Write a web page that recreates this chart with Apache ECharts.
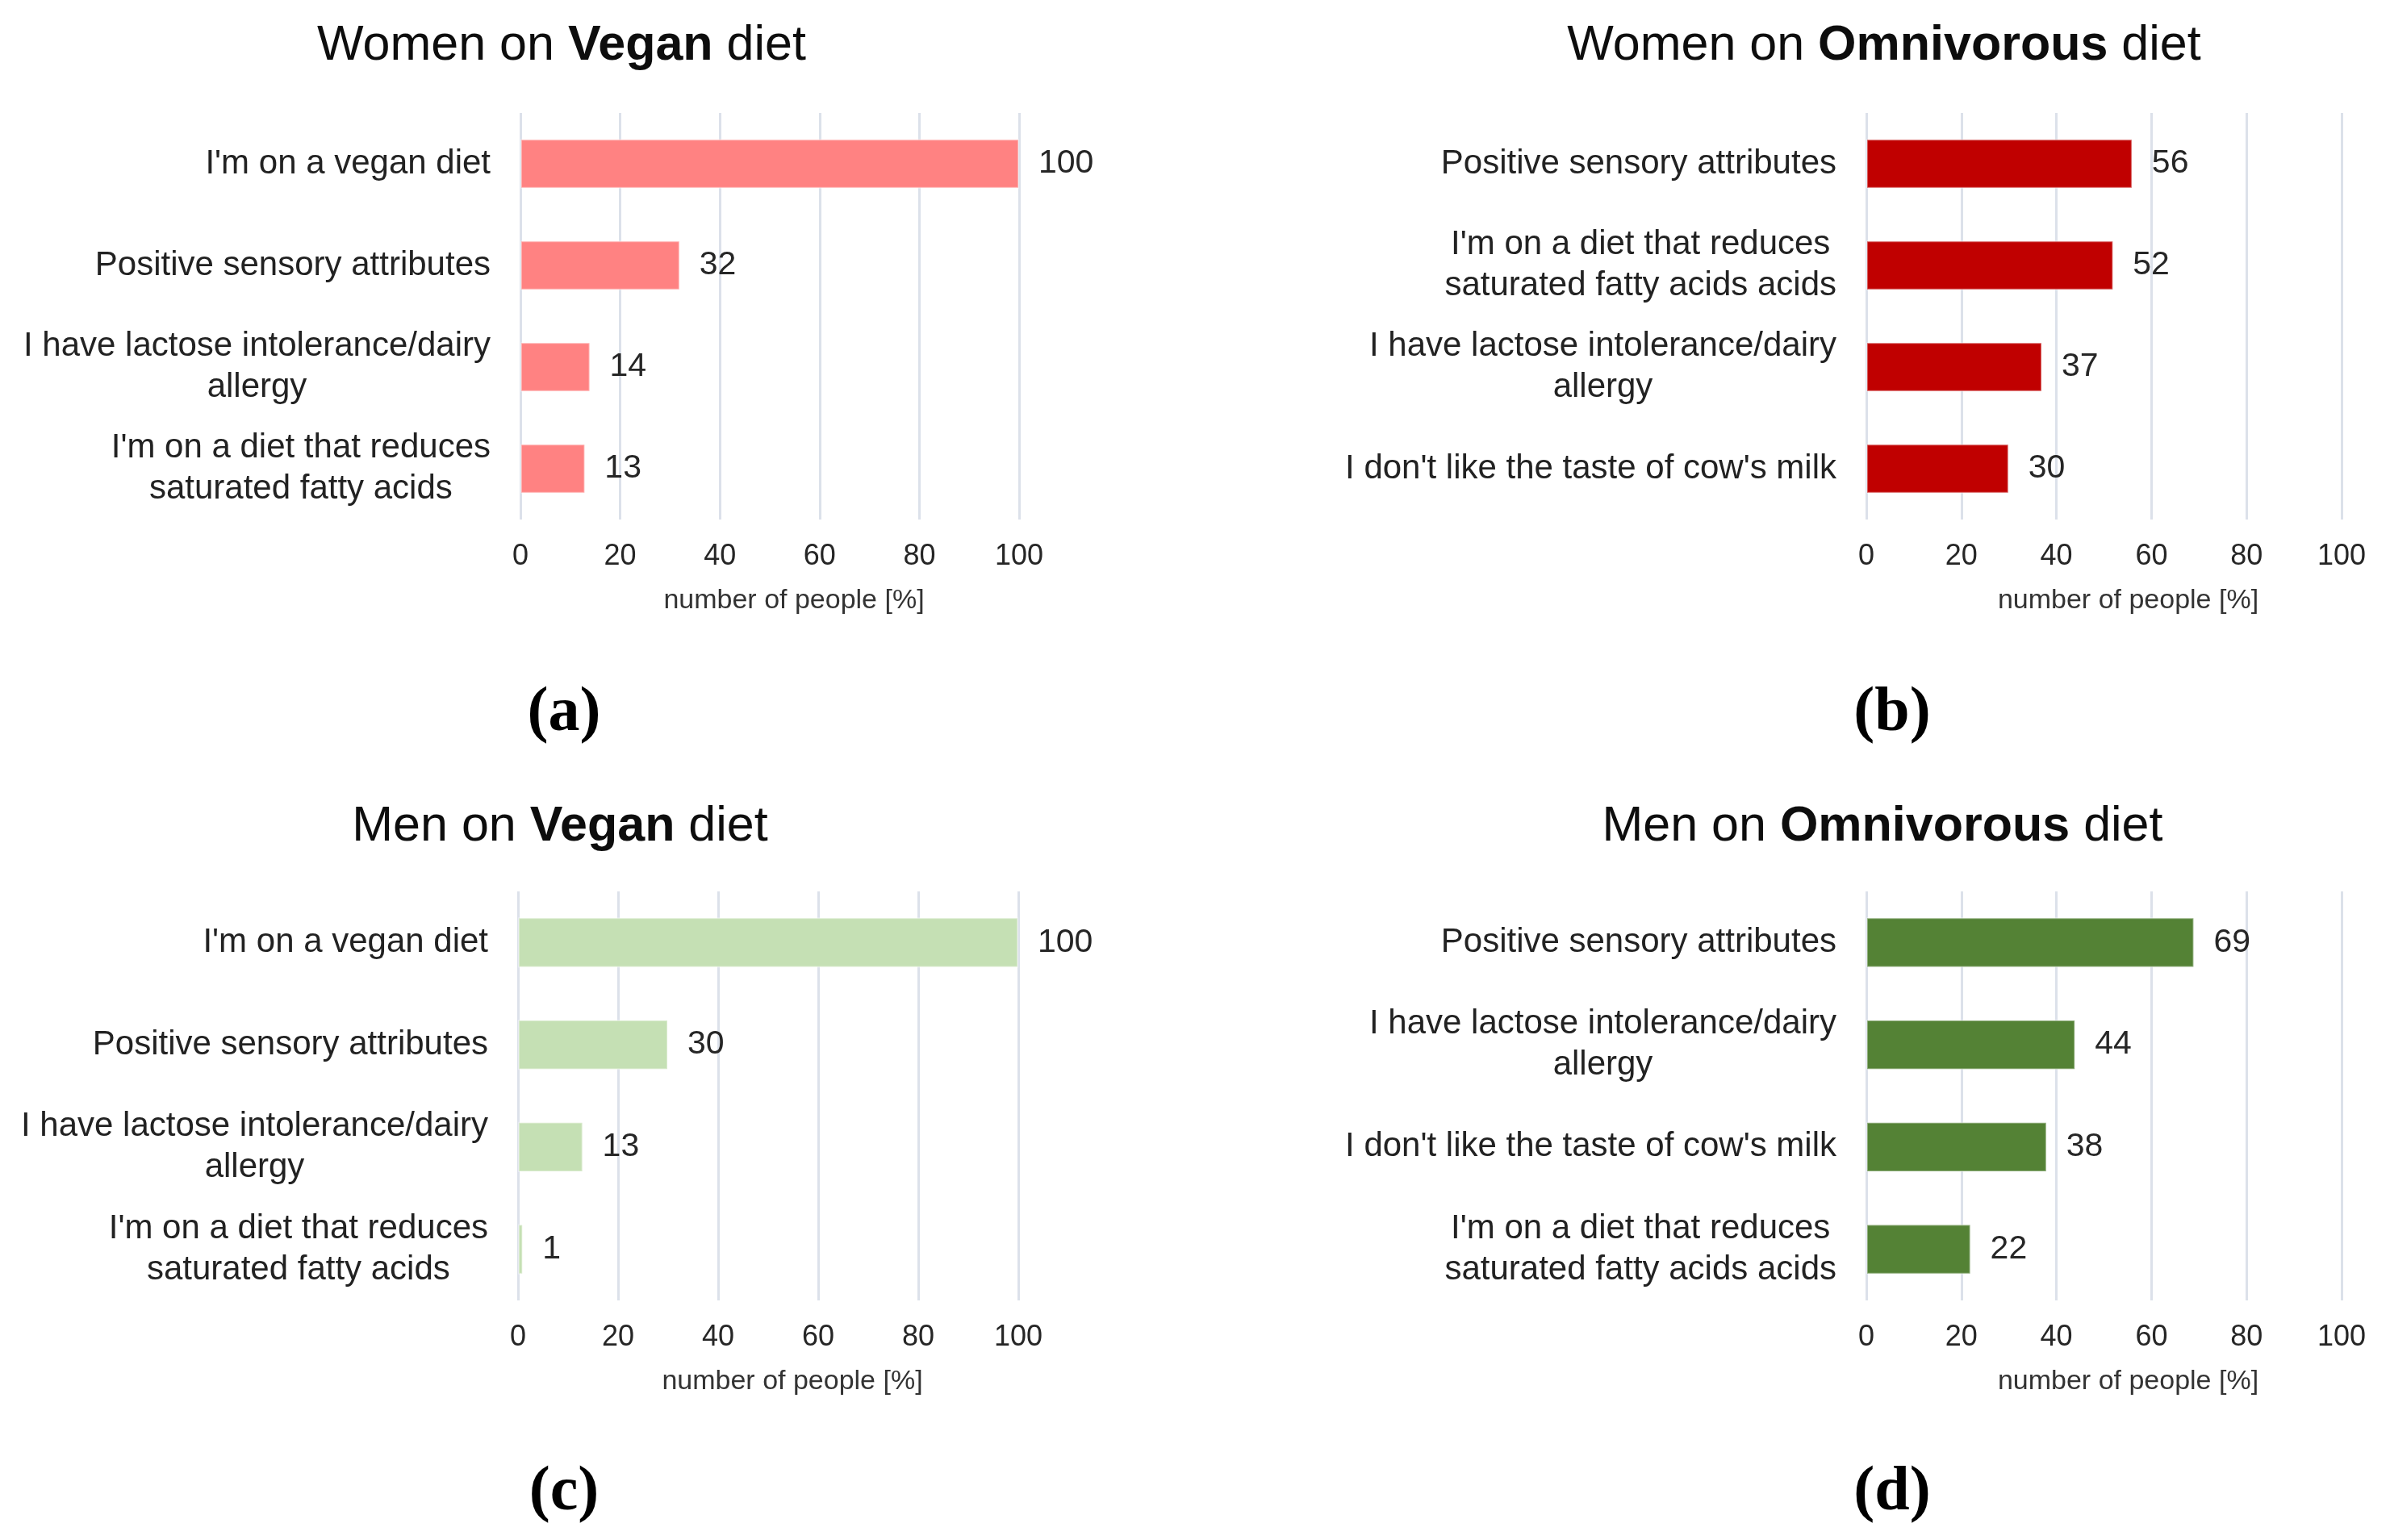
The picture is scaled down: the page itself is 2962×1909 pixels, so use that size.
<!DOCTYPE html>
<html>
<head>
<meta charset="utf-8">
<script src="https://cdn.jsdelivr.net/npm/echarts@6/dist/echarts.min.js"></script>
<style>
html,body{margin:0;padding:0;background:#fff;}
#chart{width:2962px;height:1909px;}
</style>
</head>
<body>
<div id="chart"></div>
<script>
// ---- Data ----
const catsWomenVegan = ["I'm on a vegan diet", "Positive sensory attributes", "I have lactose intolerance/dairy\nallergy", "I'm on a diet that reduces\nsaturated fatty acids"];
const valsWomenVegan = [100, 32, 14, 13];

const catsWomenOmni = ["Positive sensory attributes", "I'm on a diet that reduces\nsaturated fatty acids acids", "I have lactose intolerance/dairy\nallergy", "I don't like the taste of cow's milk"];
const valsWomenOmni = [56, 52, 37, 30];

const catsMenVegan = ["I'm on a vegan diet", "Positive sensory attributes", "I have lactose intolerance/dairy\nallergy", "I'm on a diet that reduces\nsaturated fatty acids"];
const valsMenVegan = [100, 30, 13, 1];

const catsMenOmni = ["Positive sensory attributes", "I have lactose intolerance/dairy\nallergy", "I don't like the taste of cow's milk", "I'm on a diet that reduces\nsaturated fatty acids acids"];
const valsMenOmni = [69, 44, 38, 22];

const titles = [
  ["Women on ", "Vegan", " diet"],
  ["Women on ", "Omnivorous", " diet"],
  ["Men on ", "Vegan", " diet"],
  ["Men on ", "Omnivorous", " diet"]
];
const panelLetters = ["(a)", "(b)", "(c)", "(d)"];
const axisName = "number of people [%]";
const xTicks = { min: 0, max: 100, interval: 20 };

// ---- Layout / style ----
const FONT = "'Liberation Sans', Arial, sans-serif";
const panels = [
  { cats: catsWomenVegan, vals: valsWomenVegan, color: '#FF8282', grid: { left: 645, width: 618, top: 140, height: 504 }, titleX: 696, titleY: 57, letterX: 699, letterY: 885 },
  { cats: catsWomenOmni, vals: valsWomenOmni, color: '#C00000', grid: { left: 2313, width: 589, top: 140, height: 504 }, titleX: 2335, titleY: 57, letterX: 2345, letterY: 885 },
  { cats: catsMenVegan, vals: valsMenVegan, color: '#C5E0B4', grid: { left: 642, width: 620, top: 1105, height: 507 }, titleX: 694, titleY: 1025, letterX: 699, letterY: 1851 },
  { cats: catsMenOmni, vals: valsMenOmni, color: '#548235', grid: { left: 2313, width: 589, top: 1105, height: 507 }, titleX: 2333, titleY: 1025, letterX: 2345, letterY: 1851 }
];

const grid = [], xAxis = [], yAxis = [], series = [], graphic = [];
panels.forEach((p, i) => {
  grid.push(Object.assign({ containLabel: false }, p.grid));
  xAxis.push({
    type: 'value', gridIndex: i, min: xTicks.min, max: xTicks.max, interval: xTicks.interval,
    axisLine: { show: false }, axisTick: { show: false },
    splitLine: { show: true, lineStyle: { color: '#DCE1EA', width: 3 } },
    axisLabel: { fontFamily: FONT, fontSize: 36, color: '#262626', margin: 28 },
    name: axisName, nameLocation: 'middle', nameGap: 84,
    nameTextStyle: { fontFamily: FONT, fontSize: 34, color: '#333', padding: [0, 0, 0, 60] }
  });
  yAxis.push({
    type: 'category', gridIndex: i, data: p.cats, inverse: true,
    axisLine: { show: false }, axisTick: { show: false }, splitLine: { show: false },
    axisLabel: {
      margin: 37, align: 'right',
      formatter: v => v.split('\n').map(s => '{c|' + s + '}').join('\n'),
      rich: { c: { align: 'center', fontFamily: FONT, fontSize: 42, lineHeight: 51, color: '#222' } }
    }
  });
  series.push({
    type: 'bar', xAxisIndex: i, yAxisIndex: i, data: p.vals, barCategoryGap: '51%',
    itemStyle: { color: p.color, borderColor: 'rgba(255,255,255,0.35)', borderWidth: 2 },
    label: { show: true, position: 'right', distance: 24, fontFamily: FONT, fontSize: 41, color: '#262626' },
    silent: true, animation: false
  });
  const t = titles[i];
  graphic.push({
    type: 'text', x: p.titleX, y: p.titleY,
    style: {
      text: '{n|' + t[0] + '}{b|' + t[1] + '}{n|' + t[2] + '}',
      align: 'center', verticalAlign: 'middle',
      rich: {
        n: { fontFamily: FONT, fontSize: 61, fill: '#0d0d0d', color: '#0d0d0d' },
        b: { fontFamily: FONT, fontSize: 61, fontWeight: 'bold', fill: '#0d0d0d', color: '#0d0d0d' }
      }
    }
  });
  graphic.push({
    type: 'text', x: p.letterX, y: p.letterY,
    style: {
      text: panelLetters[i], align: 'center', verticalAlign: 'middle',
      fontFamily: "'Liberation Serif', 'Times New Roman', serif", fontSize: 78, fontWeight: 'bold', fill: '#000'
    }
  });
});

const chart = echarts.init(document.getElementById('chart'), null, { renderer: 'canvas' });
chart.setOption({ backgroundColor: '#fff', animation: false, grid, xAxis, yAxis, series, graphic });
</script>
</body>
</html>
